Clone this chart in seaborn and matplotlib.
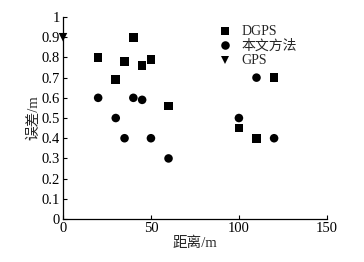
import pandas as pd
import matplotlib.pyplot as plt
import seaborn as sns

# distance (m) and error (m)
dgps_x = [20, 30, 35, 40, 45, 50, 60, 100, 110, 120]
dgps_y = [0.80, 0.69, 0.78, 0.90, 0.76, 0.79, 0.56, 0.45, 0.40, 0.70]
ours_x = [20, 30, 35, 40, 45, 50, 60, 100, 110, 120]
ours_y = [0.60, 0.50, 0.40, 0.60, 0.59, 0.40, 0.30, 0.50, 0.70, 0.40]
gps_x = [0]
gps_y = [0.90]
methods = ['DGPS', '本文方法', 'GPS']

df = pd.concat([
    pd.DataFrame({'dist': dgps_x, 'err': dgps_y, 'method': methods[0]}),
    pd.DataFrame({'dist': ours_x, 'err': ours_y, 'method': methods[1]}),
    pd.DataFrame({'dist': gps_x, 'err': gps_y, 'method': methods[2]}),
], ignore_index=True)

sns.set_theme(style='ticks')
plt.rcParams['font.family'] = ['Liberation Serif', 'Noto Sans CJK SC']
plt.rcParams.update({
    'xtick.direction': 'in',
    'ytick.direction': 'in',
})

fig = plt.figure(figsize=(3.64, 2.62), dpi=100)
ax = fig.add_axes([0.173, 0.164, 0.725, 0.771])

sns.scatterplot(
    data=df, x='dist', y='err', style='method', style_order=methods,
    markers={'DGPS': 's', '本文方法': 'o', 'GPS': 'v'},
    color='black', s=38, edgecolor='black', linewidth=0, ax=ax, clip_on=False,
)

ax.set_xlim(0, 150)
ax.set_ylim(0, 1)
ax.set_xticks([0, 50, 100, 150])
ax.set_yticks([i / 10 for i in range(11)])
ax.set_yticklabels(['0'] + [f'{i / 10:.1f}' for i in range(1, 10)] + ['1'])
ax.tick_params(length=3, width=0.8, labelsize=10.5, colors='black', pad=2)
for s in ['top', 'right']:
    ax.spines[s].set_visible(False)
for s in ['left', 'bottom']:
    ax.spines[s].set_linewidth(0.9)
    ax.spines[s].set_color('black')

ax.set_xlabel('距离/m', fontsize=10.5, labelpad=1)
ax.set_ylabel('误差/m', fontsize=10.5, labelpad=1)

ax.legend(loc='upper left', bbox_to_anchor=(0.53, 1.0), frameon=False,
          title=None, fontsize=10, handletextpad=0.2, labelspacing=0.1,
          borderaxespad=0.2, markerscale=1.0)

fig.savefig('out.png', dpi=100)
